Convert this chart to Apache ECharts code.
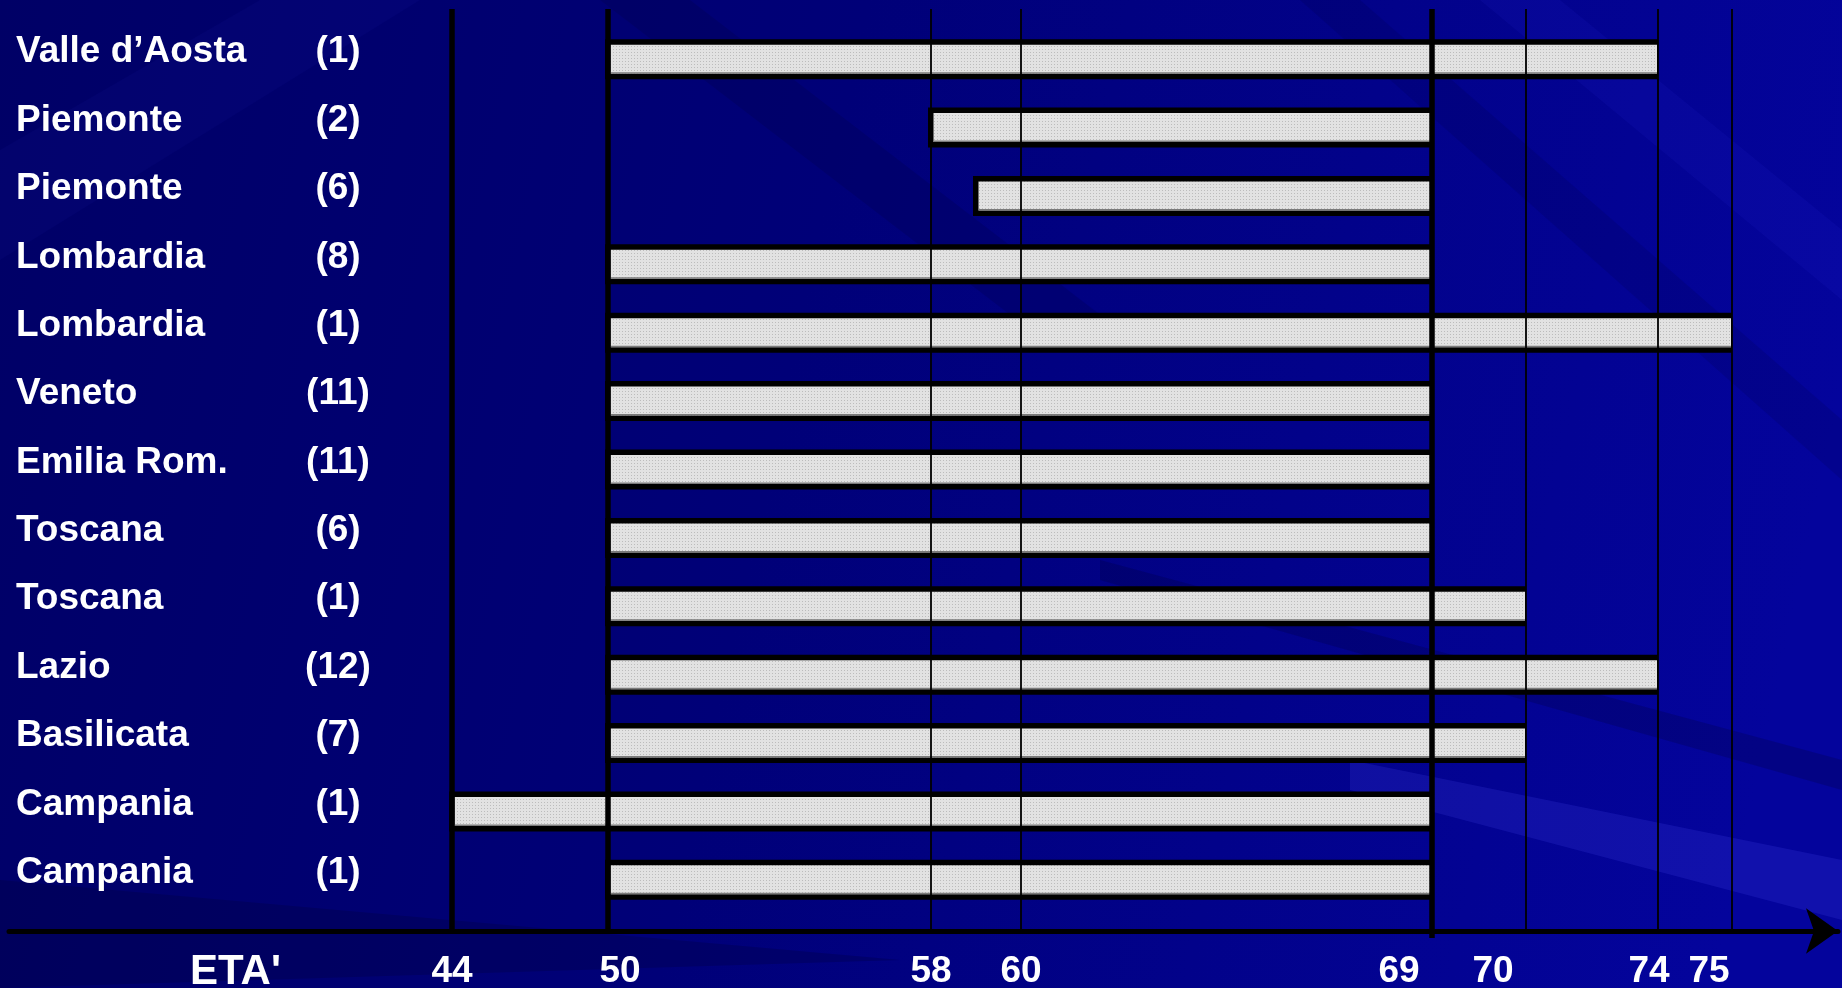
<!DOCTYPE html>
<html>
<head>
<meta charset="utf-8">
<script src="https://cdn.jsdelivr.net/npm/echarts@6/dist/echarts.min.js"></script>
<style>
  html, body { margin: 0; padding: 0; }
  #main { width: 1842px; height: 988px; }
</style>
</head>
<body>
<div id="main"></div>
<script>
// dati: regione, numero di programmi, età di inizio e fine dello screening
var regions  = ['Valle d\u2019Aosta', 'Piemonte', 'Piemonte', 'Lombardia', 'Lombardia', 'Veneto',
                'Emilia Rom.', 'Toscana', 'Toscana', 'Lazio', 'Basilicata', 'Campania', 'Campania'];
var counts   = [1, 2, 6, 8, 1, 11, 11, 6, 1, 12, 7, 1, 1];
var startAge = [50, 58, 59, 50, 50, 50, 50, 50, 50, 50, 50, 44, 50];
var endAge   = [74, 69, 69, 69, 75, 69, 69, 69, 70, 74, 70, 69, 69];
var ageTicks = [44, 50, 58, 60, 69, 70, 74, 75];

// l'asse delle età della slide è disegnato a mano (non lineare):
// posizione di ogni tacca sull'asse, in px
var tickPos = [452, 608, 931, 1021, 1432, 1526, 1658, 1732];
var heavyTicks = [44, 50, 69];
var labelNudge = { 50: 12, 69: -33, 70: -33, 74: -9, 75: -23 };

function warp(age) {
    for (var i = 0; i < ageTicks.length - 1; i++) {
        if (age <= ageTicks[i + 1]) {
            var t = (age - ageTicks[i]) / (ageTicks[i + 1] - ageTicks[i]);
            return tickPos[i] + t * (tickPos[i + 1] - tickPos[i]);
        }
    }
    return tickPos[tickPos.length - 1];
}

// texture puntinata delle barre
var dots = document.createElement('canvas');
dots.width = 3; dots.height = 3;
var dc = dots.getContext('2d');
dc.fillStyle = '#e2e2e2'; dc.fillRect(0, 0, 3, 3);
dc.fillStyle = '#bcbcbc'; dc.fillRect(1, 1, 1, 1);

var myChart = echarts.init(document.getElementById('main'));

var X0 = 9, X1 = 1838;
var font = "'Liberation Sans', Arial, sans-serif";

var option = {
    backgroundColor: {
        type: 'linear', x: 0, y: 0, x2: 1, y2: 0.4,
        colorStops: [
            { offset: 0, color: '#000066' },
            { offset: 0.45, color: '#000078' },
            { offset: 1, color: '#04049c' }
        ]
    },
    animation: false,
    graphic: [
        { type: 'polygon', z: -1, silent: true, shape: { points: [[0, 150], [260, 0], [420, 0], [0, 260]] }, style: { fill: 'rgba(40,40,200,0.07)' } },
        { type: 'polygon', z: -1, silent: true, shape: { points: [[600, 0], [690, 0], [1120, 330], [1030, 330]] }, style: { fill: 'rgba(0,0,40,0.15)' } },
        { type: 'polygon', z: -1, silent: true, shape: { points: [[1480, 0], [1560, 0], [1842, 230], [1842, 300]] }, style: { fill: 'rgba(50,50,230,0.1)' } },
        { type: 'polygon', z: -1, silent: true, shape: { points: [[1300, 0], [1360, 0], [1842, 420], [1842, 480]] }, style: { fill: 'rgba(0,0,40,0.12)' } },
        { type: 'polygon', z: -1, silent: true, shape: { points: [[1100, 560], [1842, 760], [1842, 790], [1100, 580]] }, style: { fill: 'rgba(0,0,40,0.2)' } },
        { type: 'polygon', z: -1, silent: true, shape: { points: [[1350, 760], [1842, 860], [1842, 920], [1350, 790]] }, style: { fill: 'rgba(90,90,255,0.16)' } },
        { type: 'polygon', z: -1, silent: true, shape: { points: [[0, 880], [900, 960], [0, 988]] }, style: { fill: 'rgba(0,0,50,0.25)' } },
        {
            type: 'text', z: 10, left: 190, top: 951,
            style: { text: "ETA'", fill: '#ffffff', font: 'bold 42px ' + font }
        }
    ],
    grid: [
        { left: X0, right: 1842 - X1, top: 25, height: 889, outerBoundsMode: 'none' },
        { left: X0, right: 1842 - X1, top: 9, bottom: 988 - 931, outerBoundsMode: 'none' }
    ],
    xAxis: [
        { gridIndex: 0, type: 'value', min: X0, max: X1, show: false },
        {
            gridIndex: 1, type: 'value', min: X0, max: X1,
            splitLine: { show: false },
            axisTick: { show: false },
            axisLine: {
                show: true, symbol: ['none', 'arrow'], symbolSize: [34, 32],
                lineStyle: { color: '#000000', width: 5 }
            },
            axisLabel: {
                customValues: tickPos,
                margin: 22,
                formatter: function (v) {
                    var age = ageTicks[tickPos.indexOf(v)];
                    var n = labelNudge[age] || 0;
                    return '{' + (n < 0 ? 'l' : 'r') + Math.abs(n) + '|' + age + '}';
                },
                rich: (function () {
                    var r = {};
                    Object.keys(labelNudge).forEach(function (k) {
                        var n = labelNudge[k];
                        r[(n < 0 ? 'l' : 'r') + Math.abs(n)] = { padding: n < 0 ? [0, -2 * n, 0, 0] : [0, 0, 0, 2 * n] };
                    });
                    r.r0 = {};
                    return r;
                })(),
                color: '#ffffff', fontFamily: font, fontWeight: 'bold', fontSize: 37
            }
        }
    ],
    yAxis: [
        {
            gridIndex: 0, type: 'category', inverse: true,
            data: regions.map(function (r, i) { return String(i); }),
            axisLine: { show: false }, axisTick: { show: false }, splitLine: { show: false },
            axisLabel: {
                inside: true, margin: 7, align: 'left',
                padding: [0, 0, 14, 0],
                formatter: function (v, i) {
                    return '{n|' + regions[i] + '}{c|(' + counts[i] + ')}';
                },
                rich: {
                    n: { width: 282, align: 'left', color: '#ffffff', fontFamily: font, fontWeight: 'bold', fontSize: 37 },
                    c: { width: 80, align: 'center', color: '#ffffff', fontFamily: font, fontWeight: 'bold', fontSize: 37 }
                }
            }
        },
        { gridIndex: 1, type: 'value', min: 0, max: 1, show: false }
    ],
    series: [
        {
            name: 'fasce', type: 'custom', xAxisIndex: 0, yAxisIndex: 0, z: 2,
            encode: { x: [0, 1], y: 2 },
            data: regions.map(function (r, i) { return [warp(startAge[i]), warp(endAge[i]), i]; }),
            renderItem: function (params, api) {
                var a = api.coord([api.value(0), api.value(2)]);
                var b = api.coord([api.value(1), api.value(2)]);
                var h = api.size([0, 1])[1] * 0.585;
                var top = a[1] - h / 2;
                return {
                    type: 'group',
                    children: [
                        { type: 'rect', shape: { x: a[0] - 3, y: top, width: b[0] - a[0] + 3, height: h }, style: { fill: '#000000' } },
                        { type: 'rect', shape: { x: a[0] + 2.5, y: top + 5.5, width: b[0] - a[0] - 3.5, height: h - 11 },
                          style: { fill: { image: dots, repeat: 'repeat' } } },
                        { type: 'rect', shape: { x: a[0] + 2.5, y: top + h - 7, width: b[0] - a[0] - 3.5, height: 1.5 }, style: { fill: '#7a7a7a' } }
                    ]
                };
            }
        },
        {
            name: 'età', type: 'custom', xAxisIndex: 1, yAxisIndex: 1, z: 5,
            encode: { x: 0, y: 1 },
            data: ageTicks.map(function (t) { return [warp(t), 0]; }),
            renderItem: function (params, api) {
                var x = api.coord([api.value(0), 0])[0];
                var cs = params.coordSys;
                var age = ageTicks[params.dataIndex];
                var heavy = heavyTicks.indexOf(age) >= 0;
                var w = heavy ? 5.5 : 1.8;
                // la linea dei 69 anni sporge un poco sotto l'asse
                var extra = age === 69 ? 7 : 0;
                return { type: 'rect', shape: { x: x - w / 2, y: cs.y, width: w, height: cs.height + extra }, style: { fill: '#000000' } };
            }
        }
    ]
};

myChart.setOption(option);
window.addEventListener('resize', function () { myChart.resize(); });
</script>
</body>
</html>
